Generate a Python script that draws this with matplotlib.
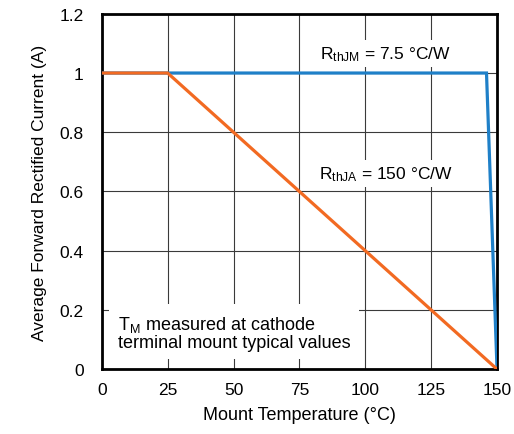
import matplotlib
matplotlib.use("Agg")
import matplotlib.pyplot as plt

plt.rcParams["font.family"] = ["Liberation Sans", "DejaVu Sans"]
plt.rcParams["mathtext.fontset"] = "custom"
plt.rcParams["mathtext.rm"] = "Liberation Sans"
plt.rcParams["mathtext.it"] = "Liberation Sans"

# curve data
temp_jm = [0, 25, 146, 150]
current_jm = [1.0, 1.0, 1.0, 0.0]
temp_ja = [0, 25, 150]
current_ja = [1.0, 1.0, 0.0]

x_ticks = [0, 25, 50, 75, 100, 125, 150]
y_ticks = [0, 0.2, 0.4, 0.6, 0.8, 1.0, 1.2]
y_tick_labels = ["0", "0.2", "0.4", "0.6", "0.8", "1", "1.2"]

blue = "#1f80c8"
orange = "#f26a22"

fig = plt.figure(figsize=(5.14, 4.35), dpi=100)
ax = fig.add_axes([0.198, 0.149, 0.769, 0.817])

ax.plot(temp_jm, current_jm, color=blue, lw=2.3, zorder=3, solid_joinstyle="miter")
ax.plot(temp_ja, current_ja, color=orange, lw=2.3, zorder=4, solid_joinstyle="miter")

ax.set_xlim(0, 150)
ax.set_ylim(0, 1.2)
ax.set_xticks(x_ticks)
ax.set_yticks(y_ticks)
ax.set_yticklabels(y_tick_labels)
ax.tick_params(length=0, labelsize=12.5)
ax.tick_params(axis="x", pad=9)
ax.tick_params(axis="y", pad=13)
ax.grid(True, color="#3a3a3a", lw=0.8)
ax.set_axisbelow(True)
for s in ax.spines.values():
    s.set_linewidth(2)

ax.set_xlabel("Mount Temperature (°C)", fontsize=13, labelpad=7)
ax.set_ylabel("Average Forward Rectified Current (A)", fontsize=12.5, labelpad=9)

box = dict(facecolor="white", edgecolor="none", pad=3)
ax.text(83, 1.065, r"R$_{\mathrm{thJM}}$ = 7.5 °C/W", fontsize=12.5, va="center",
        ha="left", bbox=box, zorder=2)
ax.text(82.5, 0.66, r"R$_{\mathrm{thJA}}$ = 150 °C/W", fontsize=12.5, va="center",
        ha="left", bbox=box, zorder=2)
ax.text(6, 0.125, "T$_{\\mathrm{M}}$ measured at cathode\nterminal mount typical values",
        fontsize=13, va="center", ha="left", linespacing=1.0,
        bbox=dict(facecolor="white", edgecolor="none", pad=6), zorder=2)

fig.savefig("out.png", dpi=100)
